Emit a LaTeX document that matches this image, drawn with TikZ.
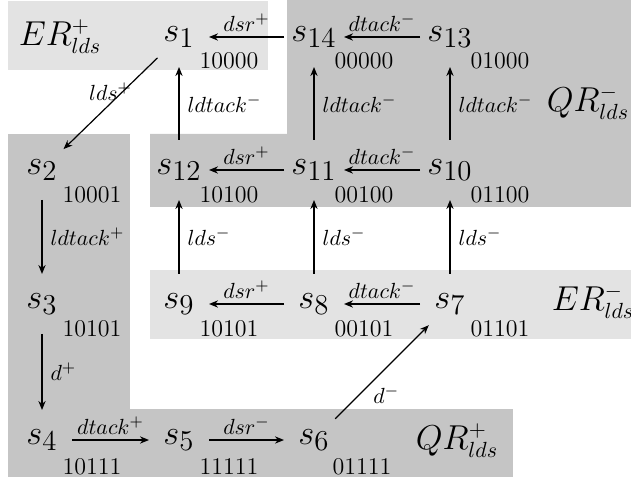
\documentclass[tikz,border=0pt]{standalone}
\usetikzlibrary{arrows.meta}
\definecolor{lightreg}{RGB}{227,227,227}
\definecolor{darkreg}{RGB}{197,197,197}
\begin{document}
\begin{tikzpicture}[x=0.5pt,y=-0.5pt,
  state/.style={circle,minimum size=30pt,inner sep=0pt,outer sep=0pt,font=\fontsize{19}{22}\selectfont},
  code/.style={inner sep=0pt,font=\fontsize{12}{14}\selectfont},
  reg/.style={inner sep=0pt,font=\fontsize{16}{19}\selectfont},
  tr/.style={-{Stealth[length=4.5pt,width=3.6pt]},line width=0.6pt},
  lab/.style={font=\fontsize{11}{13}\selectfont,inner sep=2.5pt},
  labr/.style={font=\fontsize{11}{13}\selectfont,inner sep=4pt}]
\useasboundingbox (0,0) rectangle (631,480);
% regions
\fill[lightreg] (8,1) rectangle (268,70);
\fill[darkreg] (287,0) -- (631,0) -- (631,207) -- (150,207) -- (150,134) -- (287,134) -- cycle;
\fill[darkreg] (8,134) rectangle (130,477);
\fill[lightreg] (150,270) rectangle (631,339);
\fill[darkreg] (130,409) rectangle (513,477);
% region labels
\node[reg] (erp) at (60,37) {$ER^+_{lds}$};
\node[reg] (qrm) at (588,103) {$QR^-_{lds}$};
\node[reg] (erm) at (593,302) {$ER^-_{lds}$};
\node[reg] (qrp) at (457,441) {$QR^+_{lds}$};
% states
\node[state] (s1)  at (179,37)  {$s_{1}$};
\node[state] (s14) at (314,37)  {$s_{14}$};
\node[state] (s13) at (450,37)  {$s_{13}$};
\node[state] (s2)  at (42,170)  {$s_{2}$};
\node[state] (s12) at (179,170) {$s_{12}$};
\node[state] (s11) at (314,170) {$s_{11}$};
\node[state] (s10) at (450,170) {$s_{10}$};
\node[state] (s3)  at (42,304)  {$s_{3}$};
\node[state] (s9)  at (179,304) {$s_{9}$};
\node[state] (s8)  at (314,304) {$s_{8}$};
\node[state] (s7)  at (450,304) {$s_{7}$};
\node[state] (s4)  at (42,440)  {$s_{4}$};
\node[state] (s5)  at (179,440) {$s_{5}$};
\node[state] (s6)  at (314,440) {$s_{6}$};
% codes
\node[code] (c1)  at (229,61)  {10000};
\node[code] (c14) at (364,61)  {00000};
\node[code] (c13) at (500,61)  {01000};
\node[code] (c2)  at (92,195)  {10001};
\node[code] (c12) at (229,195) {10100};
\node[code] (c11) at (364,195) {00100};
\node[code] (c10) at (500,195) {01100};
\node[code] (c3)  at (92,329)  {10101};
\node[code] (c9)  at (229,329) {10101};
\node[code] (c8)  at (364,329) {00101};
\node[code] (c7)  at (500,329) {01101};
\node[code] (c4)  at (92,467)  {10111};
\node[code] (c5)  at (229,467) {11111};
\node[code] (c6)  at (362,467) {01111};
% transitions
\draw[tr] (s14) -- node[lab,above]{$dsr^+$} (s1);
\draw[tr] (s13) -- node[lab,above]{$dtack^-$} (s14);
\draw[tr] (s11) -- node[lab,above]{$dsr^+$} (s12);
\draw[tr] (s10) -- node[lab,above]{$dtack^-$} (s11);
\draw[tr] (s8) -- node[lab,above]{$dsr^+$} (s9);
\draw[tr] (s7) -- node[lab,above]{$dtack^-$} (s8);
\draw[tr] (s4) -- node[lab,above]{$dtack^+$} (s5);
\draw[tr] (s5) -- node[lab,above]{$dsr^-$} (s6);
\draw[tr] (s1) -- node[lab,above,inner sep=1pt]{$lds^+$} (s2);
\draw[tr] (s2) -- node[labr,right]{$ldtack^+$} (s3);
\draw[tr] (s3) -- node[labr,right]{$d^+$} (s4);
\draw[tr] (s6) -- node[lab,pos=0.38,below right,inner sep=1pt]{$d^-$} (s7);
\draw[tr] (s12) -- node[labr,right]{$ldtack^-$} (s1);
\draw[tr] (s11) -- node[labr,right]{$ldtack^-$} (s14);
\draw[tr] (s10) -- node[labr,right]{$ldtack^-$} (s13);
\draw[tr] (s9) -- node[labr,right]{$lds^-$} (s12);
\draw[tr] (s8) -- node[labr,right]{$lds^-$} (s11);
\draw[tr] (s7) -- node[labr,right]{$lds^-$} (s10);
\end{tikzpicture}
\end{document}
